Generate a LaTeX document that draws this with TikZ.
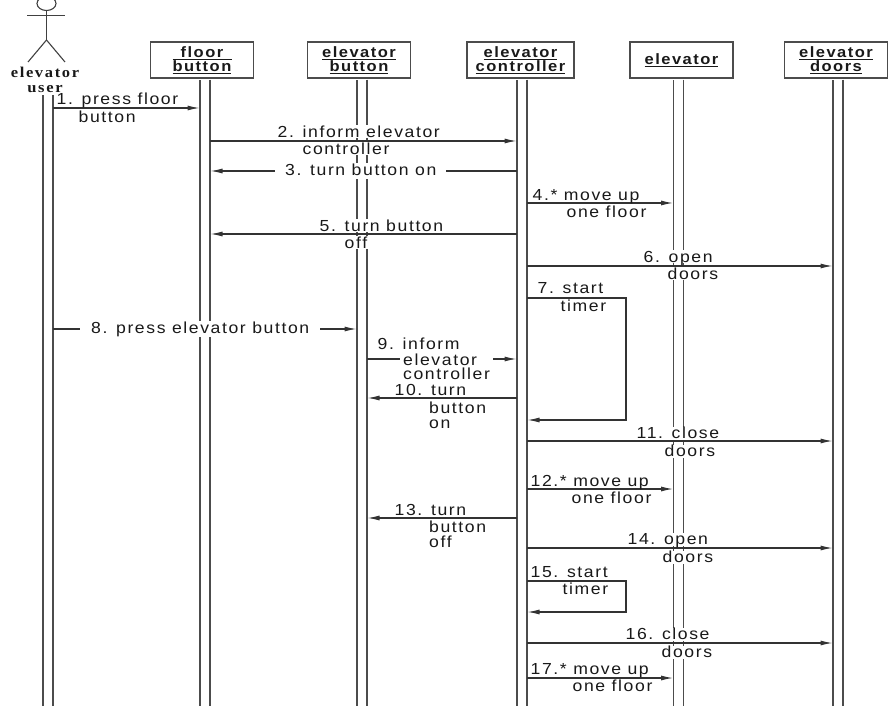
\documentclass[tikz,border=0pt]{standalone}
\usepackage{fontspec}
\setmainfont{Liberation Sans}[FakeStretch=1.1, LetterSpace=10]
\newfontfamily\actorfont{Liberation Serif}[FakeStretch=1.1, LetterSpace=11]
\usetikzlibrary{arrows.meta}
\tikzset{>={Latex[length=12pt,width=5pt]}}
\colorlet{ink}{black!90}
\tikzset{
  actor/.style={draw=black!75, line width=1.1pt},
  actorname/.style={font=\actorfont\fontsize{15}{15}\selectfont\bfseries, text=ink,
    align=center, inner sep=0pt},
  objbox/.style={draw=black!70, line width=1.7pt, minimum width=103pt,
    minimum height=36pt, align=center, inner sep=0pt, text=ink,
    font=\fontsize{15}{13}\selectfont\bfseries},
  lifeline/.style={draw=black!70, line width=1.6pt, double=white,
    double distance=8.4pt, shorten <=0.9pt},
  msg/.style={->, draw=black!80, line width=1.1pt},
  lbl/.style={font=\fontsize{16}{15}\selectfont, text=ink, fill=white,
    inner sep=0.5pt, text height=11.5pt, text depth=0.5pt, anchor=west},
  lblm/.style={font=\fontsize{16}{15}\selectfont, text=ink, fill=white,
    inner sep=1pt, align=left, anchor=north west},
  cut/.style={lbl, inner xsep=10pt, text depth=3pt}
}

\begin{document}
\begin{tikzpicture}[x=1pt, y=-1pt]
    \useasboundingbox (0,0) rectangle (895,714);

    % the user
    \draw [actor] (46.5,3.5) ellipse [x radius=9.5pt, y radius=7pt];
    \draw [actor] (46.5,10.5) -- (46.5,40);
    \draw [actor] (27,15.5) -- (65,15.5);
    \draw [actor] (28,62) -- (46.5,40) -- (65,62);
    \node [actorname] (user) at (45,80) {elevator\\user};

    % objects
    \node [objbox] (fb) at (202,60)
    {\underline{\hbox to 59pt{\hss floor\hss}}\\\underline{button}};
    \node [objbox] (eb) at (359,60) {\underline{elevator}\\\underline{button}};
    \node [objbox, minimum width=107pt] (ec) at (520.5,60)
    {\underline{elevator}\\\underline{controller}};
    \node [objbox] (el) at (681.5,60) {\underline{elevator}};
    \node [objbox] (ed) at (836,60) {\underline{elevator}\\\underline{doors}};

    % lifelines
    \coordinate (u1) at (48,706);
    \coordinate (f1) at (205,706);
    \coordinate (b1) at (362,706);
    \coordinate (c1) at (522,706);
    \coordinate (e1) at (678.5,706);
    \coordinate (d1) at (838,706);

    \draw [lifeline, shorten <=0pt] (48,95) -- (u1);
    \draw [lifeline] (fb.south -| f1) -- (f1);
    \draw [lifeline] (eb.south -| b1) -- (b1);
    \draw [lifeline] (ec.south -| c1) -- (c1);
    \draw [lifeline] (el.south -| e1) -- (e1);
    \draw [lifeline] (ed.south -| d1) -- (d1);

    % messages
    \coordinate (m1a) at (53,108);   \coordinate (m1b) at (199.5,108);
    \coordinate (m2a) at (210,141);  \coordinate (m2b) at (516.5,141);
    \coordinate (m3a) at (517,171);  \coordinate (m3b) at (210.5,171);
    \coordinate (m4a) at (527,203);  \coordinate (m4b) at (673,203);
    \coordinate (m5a) at (517,234);  \coordinate (m5b) at (210.5,234);
    \coordinate (m6a) at (527,266);  \coordinate (m6b) at (832.5,266);
    \coordinate (m7a) at (527,298);  \coordinate (m7b) at (626,298);
    \coordinate (m7c) at (626,420);  \coordinate (m7d) at (527.5,420);
    \coordinate (m8a) at (53,329);   \coordinate (m8b) at (356.5,329);
    \coordinate (m9a) at (367,359);  \coordinate (m9b) at (516.5,359);
    \coordinate (m10a) at (517,398); \coordinate (m10b) at (367.5,398);
    \coordinate (m11a) at (527,441); \coordinate (m11b) at (832.5,441);
    \coordinate (m12a) at (527,489); \coordinate (m12b) at (673,489);
    \coordinate (m13a) at (517,518); \coordinate (m13b) at (367.5,518);
    \coordinate (m14a) at (527,548); \coordinate (m14b) at (832.5,548);
    \coordinate (m15a) at (527,581); \coordinate (m15b) at (626,581);
    \coordinate (m15c) at (626,612); \coordinate (m15d) at (527.5,612);
    \coordinate (m16a) at (527,643); \coordinate (m16b) at (832.5,643);
    \coordinate (m17a) at (527,678); \coordinate (m17b) at (673,678);

    \draw [msg] (m1a) -- (m1b);
    \draw [msg] (m2a) -- (m2b);
    \draw [msg] (m3a) -- (m3b);
    \draw [msg] (m4a) -- (m4b);
    \draw [msg] (m5a) -- (m5b);
    \draw [msg] (m6a) -- (m6b);
    \draw [msg] (m7a) -- (m7b) -- (m7c) -- (m7d);
    \draw [msg] (m8a) -- (m8b);
    \draw [msg] (m9a) -- (m9b);
    \draw [msg] (m10a) -- (m10b);
    \draw [msg] (m11a) -- (m11b);
    \draw [msg] (m12a) -- (m12b);
    \draw [msg] (m13a) -- (m13b);
    \draw [msg] (m14a) -- (m14b);
    \draw [msg] (m15a) -- (m15b) -- (m15c) -- (m15d);
    \draw [msg] (m16a) -- (m16b);
    \draw [msg] (m17a) -- (m17b);

    % labels
    \node [lbl] (t1a) at (56,99) {1. press floor};
    \node [lbl] (t1b) at (78,117) {button};
    \node [lbl] (t2a) at (277,132) {2. inform elevator};
    \node [lbl] (t2b) at (302,149) {controller};
    \node [cut] (t3) at (275,171) {3. turn button on};
    \node [lbl] (t4a) at (532,195) {4.* move up};
    \node [lbl] (t4b) at (566,212) {one floor};
    \node [lbl] (t5a) at (319,226) {5. turn button};
    \node [lbl] (t5b) at (344,243) {off};
    \node [lbl] (t6a) at (643,257) {6. open};
    \node [lbl] (t6b) at (667,274) {doors};
    \node [lbl] (t7a) at (537,288) {7. start};
    \node [lbl] (t7b) at (560,306) {timer};
    \node [cut, inner xsep=11pt] (t8) at (80,329) {8. press elevator button};
    \node [lbl, fill=none] (t9a) at (377,343.5) {9. inform};
    \node [lblm, inner xsep=3pt, font=\fontsize{16}{14.5}\selectfont]
    (t9b) at (400,352.5) {elevator\\controller};
    \node [lbl] (t10a) at (394,390) {10. turn};
    \node [lblm] (t10b) at (428,400.5) {button\\on};
    \node [lbl] (t11a) at (636,433) {11. close};
    \node [lbl] (t11b) at (664,451) {doors};
    \node [lbl] (t12a) at (530,481) {12.* move up};
    \node [lbl] (t12b) at (571,498) {one floor};
    \node [lbl] (t13a) at (394,510) {13. turn};
    \node [lblm] (t13b) at (428,520) {button\\off};
    \node [lbl] (t14a) at (627,539) {14. open};
    \node [lbl] (t14b) at (662,557) {doors};
    \node [lbl] (t15a) at (530,572) {15. start};
    \node [lbl] (t15b) at (562,589) {timer};
    \node [lbl] (t16a) at (625,634) {16. close};
    \node [lbl] (t16b) at (661,652) {doors};
    \node [lbl] (t17a) at (530,669) {17.* move up};
    \node [lbl] (t17b) at (572,686) {one floor};
\end{tikzpicture}
\end{document}
